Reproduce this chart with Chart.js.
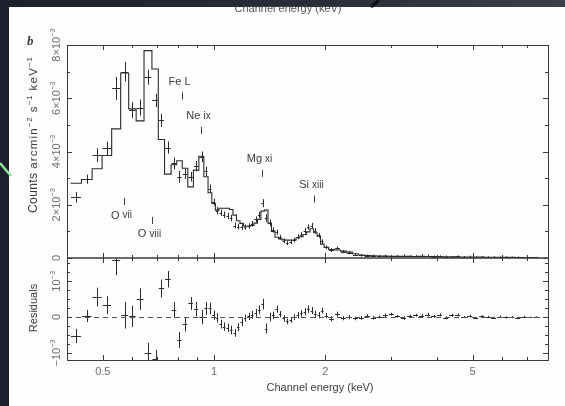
<!DOCTYPE html>
<html>
<head>
<meta charset="utf-8">
<title>X-ray spectrum and fit residuals</title>
<script src="https://cdn.jsdelivr.net/npm/chart.js@4.4.1/dist/chart.umd.min.js"></script>
<style>
  html, body { margin: 0; padding: 0; background: #1e2431; }
  canvas { display: block; }
</style>
</head>
<body>
<canvas id="spec" width="565" height="406"></canvas>
<script>
// Channel energy at the centre of each spectral bin (keV)
const energyKeV = [
  0.423, 0.453, 0.483, 0.513, 0.544, 0.574, 0.601, 0.630, 0.663, 0.695,
  0.718, 0.751, 0.779, 0.806, 0.834, 0.864, 0.894, 0.925, 0.951, 0.975, 0.997,
  1.019, 1.041, 1.064, 1.088, 1.112, 1.137, 1.162, 1.187, 1.213, 1.240,
  1.268, 1.296, 1.324, 1.353, 1.383, 1.414, 1.445, 1.477, 1.510, 1.543,
  1.577, 1.612, 1.647, 1.684, 1.721, 1.759, 1.798, 1.838, 1.878, 1.920,
  1.962, 2.005,
  2.075, 2.154, 2.237, 2.322, 2.411, 2.503, 2.598, 2.697, 2.800, 2.907,
  3.018, 3.133, 3.253, 3.377, 3.506, 3.640, 3.778, 3.923, 4.072, 4.228,
  4.389, 4.556, 4.730, 4.911, 5.098, 5.293, 5.495, 5.704, 5.922, 6.148,
  6.383, 6.626, 6.879, 7.142, 7.414
];

// Surface brightness, 10^-3 counts arcmin^-2 s^-1 keV^-1
const counts = [
  2.28, 2.96, 3.86, 4.12, 6.37, 7.00, 5.55, 5.65, 6.79, 5.92,
  5.17, 4.15, 3.55, 3.05, 3.17, 3.05, 3.45, 3.80, 3.25, 2.60, 2.10,
  1.78, 1.70, 1.62, 1.58, 1.50, 1.22, 1.18, 1.16, 1.16, 1.20,
  1.28, 1.45, 1.62, 2.06, 1.50, 1.32, 1.05, 0.97, 0.78, 0.64,
  0.56, 0.60, 0.67, 0.80, 0.88, 1.02, 1.16, 1.22, 1.02, 0.85,
  0.62, 0.40,
  0.30, 0.36, 0.24, 0.20, 0.13, 0.10, 0.08, 0.08, 0.07, 0.08,
  0.06, 0.07, 0.08, 0.06, 0.07, 0.09, 0.08, 0.05, 0.06, 0.05,
  0.04, 0.06, 0.04, 0.05, 0.03, 0.04, 0.03, 0.03, 0.02, 0.03,
  0.02, 0.03, 0.02, 0.02, 0.02
];

// 1-sigma uncertainty of each bin, same units
const countErr = [
  0.20, 0.17, 0.26, 0.25, 0.43, 0.37, 0.30, 0.30, 0.28, 0.25,
  0.25, 0.23, 0.22, 0.22, 0.20, 0.18, 0.20, 0.20, 0.18, 0.16, 0.13,
  0.13, 0.12, 0.12, 0.12, 0.12, 0.11, 0.11, 0.11, 0.10, 0.10,
  0.11, 0.11, 0.12, 0.15, 0.14, 0.12, 0.10, 0.10, 0.09, 0.09,
  0.08, 0.08, 0.08, 0.09, 0.09, 0.10, 0.10, 0.10, 0.10, 0.09,
  0.08, 0.07,
  0.07, 0.07, 0.06, 0.06, 0.05, 0.05, 0.05, 0.05, 0.04, 0.05,
  0.04, 0.04, 0.05, 0.04, 0.04, 0.05, 0.05, 0.04, 0.04, 0.04,
  0.04, 0.04, 0.03, 0.04, 0.03, 0.03, 0.03, 0.03, 0.03, 0.03,
  0.03, 0.03, 0.02, 0.02, 0.02
];

// Folded best-fit model, one level per bin
const model = [
  2.81, 2.95, 3.35, 3.85, 4.85, 6.95, 5.60, 5.15, 7.79, 7.10,
  4.45, 3.15, 3.50, 3.65, 3.37, 2.67, 3.30, 3.82, 3.05, 2.45, 2.05,
  1.80, 1.87, 1.87, 1.87, 1.82, 1.61, 1.40, 1.30, 1.20, 1.20,
  1.22, 1.31, 1.45, 1.76, 1.80, 1.31, 1.00, 0.78, 0.72, 0.68,
  0.67, 0.67, 0.67, 0.76, 0.80, 0.88, 0.98, 1.10, 0.95, 0.82,
  0.52, 0.40,
  0.32, 0.30, 0.26, 0.22, 0.16, 0.11, 0.09, 0.08, 0.075, 0.07,
  0.065, 0.06, 0.06, 0.06, 0.055, 0.06, 0.055, 0.05, 0.05, 0.045,
  0.045, 0.04, 0.04, 0.04, 0.035, 0.035, 0.03, 0.03, 0.03, 0.025,
  0.025, 0.02, 0.02, 0.02, 0.02
];

// Data minus model, 10^-3 counts arcmin^-2 s^-1 keV^-1
const residual = [
  -0.53, 0.03, 0.56, 0.33, 1.60, 0.05, 0.02, 0.50, -1.00, -1.17,
  0.80, 1.06, 0.20, -0.64, -0.20, 0.38, 0.22, 0.00, 0.24, 0.24, 0.05,
  -0.02, -0.20, -0.27, -0.30, -0.36, -0.44, -0.28, -0.15, -0.03, 0.02,
  0.06, 0.12, 0.20, 0.36, -0.32, 0.00, 0.05, 0.22, 0.08, -0.04,
  -0.12, -0.08, 0.00, 0.05, 0.10, 0.15, 0.22, 0.18, 0.08, 0.05,
  0.18, 0.04,
  -0.05, 0.08, -0.03, 0.00, -0.04, -0.02, 0.03, -0.02, 0.00, 0.05,
  0.08, 0.02, -0.03, 0.03, 0.05, 0.04, 0.07, 0.02, 0.06, -0.02,
  0.05, 0.06, 0.00, 0.03, -0.03, 0.02, 0.00, -0.02, 0.01, -0.01,
  0.00, -0.02, 0.01, -0.01, 0.00
];

// Axis ticks
const xLabelTicks = [0.5, 1, 2, 5];
const xMinorTicks = [0.4, 0.6, 0.7, 0.8, 0.9, 3, 4, 6, 7, 8];
const specLabelTicks = [0, 2, 4, 6, 8];
const specMinorTicks = [1, 3, 5, 7];
const resLabelTicks = [-1, 0, 1];
const resMinorTicks = [-0.75, -0.5, -0.25, 0.25, 0.5, 0.75, 1.25, 1.5];

// Emission-line identifications: element, ionisation stage, line energy (keV)
const lineIds = [
  { el: 'O',  stage: 'VII',  keV: 0.57, level: 2.12, side: 'below' },
  { el: 'O',  stage: 'VIII', keV: 0.68, level: 1.41, side: 'below' },
  { el: 'Fe', stage: 'L',    keV: 0.82, level: 6.09, side: 'above', plain: true },
  { el: 'Ne', stage: 'IX',   keV: 0.92, level: 4.79, side: 'above' },
  { el: 'Mg', stage: 'XI',   keV: 1.35, level: 3.18, side: 'above' },
  { el: 'Si', stage: 'XIII', keV: 1.86, level: 2.21, side: 'above' }
];

const INK = '#2b2b2b';
const LABEL = '#6f6f6f';
const SANS = '"Liberation Sans", Arial, sans-serif';

// bin edges halfway (in log space) between neighbouring centres
const N = energyKeV.length;
const edges = [];
for (let i = 0; i <= N; i++) {
  if (i === 0) edges.push(energyKeV[0] * energyKeV[0] / Math.sqrt(energyKeV[0] * energyKeV[1]));
  else if (i === N) edges.push(energyKeV[N - 1] * energyKeV[N - 1] / Math.sqrt(energyKeV[N - 2] * energyKeV[N - 1]));
  else edges.push(Math.sqrt(energyKeV[i - 1] * energyKeV[i]));
}

const modelSteps = model.map((m, i) => ({ x: edges[i], y: m }));
modelSteps.push({ x: edges[N], y: model[N - 1] });
const dataPts = energyKeV.map((e, i) => ({ x: e, y: counts[i] }));
const resPts = energyKeV.map((e, i) => ({ x: e, y: residual[i] }));

// text made of runs, some of them raised as superscripts
function drawRuns(ctx, runs, x, y, align) {
  let total = 0;
  const laid = runs.map(r => {
    const size = r.sup ? r.size * 0.68 : r.size;
    const font = (r.style || '') + ' ' + size + 'px ' + (r.family || SANS);
    ctx.font = font;
    ctx.letterSpacing = r.spacing || '0px';
    const w = ctx.measureText(r.t).width;
    total += w;
    return { t: r.t, font, w, spacing: r.spacing || '0px', dy: r.sup ? -r.size * 0.4 : 0 };
  });
  let cx = align === 'center' ? x - total / 2 : (align === 'right' ? x - total : x);
  ctx.textAlign = 'left';
  laid.forEach(l => {
    ctx.font = l.font;
    ctx.letterSpacing = l.spacing;
    ctx.fillText(l.t, cx, y + l.dy);
    cx += l.w;
  });
  ctx.letterSpacing = '0px';
}

function powerLabel(v, size) {
  if (v === 0) return [{ t: '0', size }];
  if (v === 1) return [{ t: '10', size }, { t: '\u22123', size, sup: true }];
  if (v === -1) return [{ t: '\u221210', size }, { t: '\u22123', size, sup: true }];
  return [{ t: v + '\u00d710', size }, { t: '\u22123', size, sup: true }];
}

const figurePlugin = {
  id: 'figure',
  beforeDraw(chart) {
    const ctx = chart.ctx, W = chart.width, H = chart.height;
    ctx.save();
    const g = ctx.createLinearGradient(0, 0, W, 0);
    g.addColorStop(0, '#1b202c');
    g.addColorStop(0.6, '#2a2f3a');
    g.addColorStop(1, '#3b4049');
    ctx.fillStyle = g;
    ctx.fillRect(0, 0, W, H);
    ctx.fillStyle = '#fdfdfd';
    ctx.fillRect(9, 7, W - 9, H - 7);
    // foot of the panel above
    ctx.fillStyle = '#555';
    ctx.textBaseline = 'alphabetic';
    ctx.textAlign = 'center';
    ctx.font = '11px ' + SANS;
    ctx.fillText('Channel energy (keV)', 288, 12);
    ctx.fillStyle = g;
    ctx.fillRect(0, 0, W, 6);
    ctx.fillRect(0, 0, 9, H);
    // page marks
    ctx.strokeStyle = '#0d0f14';
    ctx.lineWidth = 3;
    ctx.beginPath(); ctx.moveTo(371, 7); ctx.lineTo(379, 0); ctx.stroke();
    ctx.strokeStyle = '#8fe49b';
    ctx.lineWidth = 2.5;
    ctx.beginPath(); ctx.moveTo(0, 163); ctx.lineTo(11, 176); ctx.stroke();
    ctx.restore();
  },
  afterDatasetsDraw(chart) {
    const ctx = chart.ctx;
    const xs = chart.scales.x, ys = chart.scales.ySpec, yr = chart.scales.yRes;
    const L = xs.left, R = xs.right;
    ctx.save();

    // error crosses, kept inside their own panel
    const crosses = (meta, scale) => {
      ctx.save();
      ctx.beginPath();
      ctx.rect(L, scale.top, R - L, scale.bottom - scale.top);
      ctx.clip();
      ctx.strokeStyle = INK;
      ctx.lineWidth = 1;
      ctx.beginPath();
      meta.data.forEach((pt, i) => {
        const v = meta._dataset.data[i].y;
        const x0 = xs.getPixelForValue(edges[i]) + 0.5, x1 = xs.getPixelForValue(edges[i + 1]) - 0.5;
        const yc = Math.round(pt.y) + 0.5, xc = Math.round(pt.x) + 0.5;
        ctx.moveTo(x0, yc); ctx.lineTo(x1, yc);
        ctx.moveTo(xc, scale.getPixelForValue(v - countErr[i]));
        ctx.lineTo(xc, scale.getPixelForValue(v + countErr[i]));
      });
      ctx.stroke();
      ctx.restore();
    };
    crosses(chart.getDatasetMeta(1), ys);
    crosses(chart.getDatasetMeta(2), yr);

    // zero level of the residuals
    ctx.strokeStyle = '#555';
    ctx.lineWidth = 1;
    ctx.setLineDash([5, 4]);
    const y0 = Math.round(yr.getPixelForValue(0)) + 0.5;
    ctx.beginPath(); ctx.moveTo(L, y0); ctx.lineTo(R, y0); ctx.stroke();
    ctx.setLineDash([]);

    // panel frames
    ctx.strokeStyle = '#3a3a3a';
    ctx.lineWidth = 1;
    ctx.strokeRect(L + 0.5, ys.top + 0.5, R - L, yr.bottom - ys.top);
    ctx.lineWidth = 1.6;
    ctx.beginPath(); ctx.moveTo(L, ys.bottom); ctx.lineTo(R, ys.bottom); ctx.stroke();

    // inward tick marks
    ctx.lineWidth = 1;
    ctx.beginPath();
    const yTicks = (scale, majors, minors) => {
      majors.concat(minors).forEach(v => {
        const y = Math.round(scale.getPixelForValue(v)) + 0.5;
        const len = majors.includes(v) ? 5 : 3;
        ctx.moveTo(L, y); ctx.lineTo(L + len, y);
        ctx.moveTo(R, y); ctx.lineTo(R - len, y);
      });
    };
    yTicks(ys, specLabelTicks, specMinorTicks);
    yTicks(yr, resLabelTicks, resMinorTicks);
    xLabelTicks.concat(xMinorTicks).forEach(v => {
      const x = Math.round(xs.getPixelForValue(v)) + 0.5;
      const len = xLabelTicks.includes(v) ? 5 : 3;
      ctx.moveTo(x, ys.top); ctx.lineTo(x, ys.top + len);
      ctx.moveTo(x, ys.bottom - len); ctx.lineTo(x, ys.bottom + len);
      ctx.moveTo(x, yr.bottom); ctx.lineTo(x, yr.bottom - len);
    });
    ctx.stroke();

    // rotated y tick labels
    ctx.fillStyle = LABEL;
    ctx.textBaseline = 'middle';
    const yLabels = (scale, values) => values.forEach(v => {
      ctx.save();
      ctx.translate(57, scale.getPixelForValue(v));
      ctx.rotate(-Math.PI / 2);
      drawRuns(ctx, powerLabel(v, 11), 0, 0, 'center');
      ctx.restore();
    });
    yLabels(ys, specLabelTicks);
    yLabels(yr, resLabelTicks);

    // axis titles
    ctx.fillStyle = '#3c3c3c';
    ctx.save();
    ctx.translate(34, 213);
    ctx.rotate(-Math.PI / 2);
    drawRuns(ctx, [
      { t: 'Counts ', size: 12, spacing: '0.4px' },
      { t: 'arcmin', size: 11.5, spacing: '1.2px' }, { t: '\u22122', size: 11.5, sup: true, spacing: '0.8px' },
      { t: ' s', size: 11.5, spacing: '1.2px' }, { t: '\u22121', size: 11.5, sup: true, spacing: '0.8px' },
      { t: ' keV', size: 11.5, spacing: '1.2px' }, { t: '\u22121', size: 11.5, sup: true, spacing: '0.8px' }
    ], 0, 0, 'left');
    ctx.restore();

    ctx.save();
    ctx.translate(34, 308);
    ctx.rotate(-Math.PI / 2);
    drawRuns(ctx, [{ t: 'Residuals', size: 11 }], 0, 0, 'center');
    ctx.restore();

    drawRuns(ctx, [{ t: 'Channel energy (keV)', size: 11 }], 320, 388, 'center');
    drawRuns(ctx, [{ t: 'b', size: 13, style: 'italic bold', family: '"Liberation Serif", serif' }], 27, 42, 'left');

    // line identifications
    ctx.fillStyle = '#3c3c3c';
    ctx.strokeStyle = '#3c3c3c';
    lineIds.forEach(id => {
      const x = Math.round(xs.getPixelForValue(id.keV)) + 0.5;
      const yc = ys.getPixelForValue(id.level);
      ctx.beginPath(); ctx.moveTo(x, yc - 3.5); ctx.lineTo(x, yc + 3.5); ctx.stroke();
      const ty = id.side === 'above' ? yc - 14 : yc + 14;
      const runs = id.plain
        ? [{ t: id.el + ' ' + id.stage, size: 11 }]
        : [{ t: id.el + ' ', size: 11 }, { t: id.stage.toLowerCase(), size: 10 }];
      drawRuns(ctx, runs, x - 3, ty, 'center');
    });

    ctx.restore();
  }
};

new Chart(document.getElementById('spec'), {
  type: 'line',
  data: {
    datasets: [
      { label: 'model', data: modelSteps, yAxisID: 'ySpec', stepped: 'before',
        borderColor: INK, borderWidth: 1.1, pointRadius: 0, fill: false },
      { label: 'data', data: dataPts, yAxisID: 'ySpec', showLine: false, pointRadius: 0 },
      { label: 'residuals', data: resPts, yAxisID: 'yRes', showLine: false, pointRadius: 0 }
    ]
  },
  options: {
    responsive: false,
    animation: false,
    devicePixelRatio: 1,
    layout: { padding: { top: 45, right: 17, left: 0, bottom: 0 } },
    plugins: { legend: { display: false }, tooltip: { enabled: false } },
    scales: {
      x: {
        type: 'logarithmic', min: 0.4, max: 8,
        afterBuildTicks: s => { s.ticks = xLabelTicks.map(v => ({ value: v })); },
        afterFit: s => { s.height = 46; },
        grid: { display: false, drawTicks: false },
        border: { display: false },
        ticks: { autoSkip: false, maxRotation: 0, padding: 5, color: LABEL,
                 font: { family: 'Liberation Sans', size: 11 }, callback: v => String(v) }
      },
      yRes: {
        position: 'left', stack: 'panels', stackWeight: 102, min: -1.2, max: 1.65,
        afterBuildTicks: s => { s.ticks = resLabelTicks.map(v => ({ value: v })); },
        afterFit: s => { s.width = 67; },
        grid: { display: false, drawTicks: false }, border: { display: false },
        ticks: { display: false }
      },
      ySpec: {
        position: 'left', stack: 'panels', stackWeight: 213, min: 0, max: 8,
        afterBuildTicks: s => { s.ticks = specLabelTicks.map(v => ({ value: v })); },
        afterFit: s => { s.width = 67; },
        grid: { display: false, drawTicks: false }, border: { display: false },
        ticks: { display: false }
      }
    }
  },
  plugins: [figurePlugin]
});
</script>
</body>
</html>
